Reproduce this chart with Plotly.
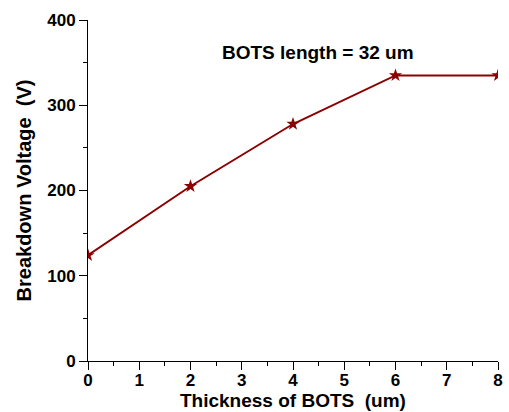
import plotly.graph_objects as go

# BOTS thickness (um) vs. breakdown voltage (V)
thickness = [0, 2, 4, 6, 8]
breakdown_v = [124, 205, 278, 335, 335]

x_ticks = [0, 1, 2, 3, 4, 5, 6, 7, 8]
y_ticks = [0, 100, 200, 300, 400]

color = "#8B0000"
family = "Liberation Sans, Arial, sans-serif"
title_font = dict(family=family, size=19, color="black")

fig = go.Figure(
    go.Scatter(
        x=thickness,
        y=breakdown_v,
        mode="lines+markers",
        line=dict(color=color, width=2),
        marker=dict(symbol="star", size=10, color=color),
        cliponaxis=True,
    )
)

axis_common = dict(
    showgrid=False,
    zeroline=False,
    showline=True,
    linecolor="black",
    linewidth=1,
    ticks="outside",
    ticklen=8,
    tickwidth=1,
    tickcolor="black",
    tickfont=dict(family=family, size=17, color="black"),
    minor=dict(ticks="outside", ticklen=4, tickwidth=1, tickcolor="black"),
    automargin=False,
)

fig.update_xaxes(
    range=[0, 8],
    tickvals=x_ticks,
    ticktext=[f"<b>{v}</b>" for v in x_ticks],
    minor_dtick=0.5,
    ticklabelstandoff=-4,
    **axis_common,
)
fig.update_yaxes(
    range=[0, 400],
    tickvals=y_ticks,
    ticktext=[f"<b>{v}</b>" for v in y_ticks],
    minor_dtick=50,
    title=dict(text="<b>Breakdown Voltage  (V)</b>",
               font=dict(family=family, size=20, color="black"), standoff=10),
    **axis_common,
)

# x-axis title placed just under the tick labels
fig.add_annotation(
    x=0.5, y=-0.082, xref="paper", yref="paper",
    yanchor="top",
    borderpad=0,
    text="<b>Thickness of BOTS  (um)</b>",
    showarrow=False,
    font=title_font,
)

fig.add_annotation(
    x=0.56, y=0.94, xref="paper", yref="paper",
    text="<b>BOTS length = 32 um</b>",
    showarrow=False,
    font=title_font,
)

fig.update_layout(
    width=509,
    height=412,
    margin=dict(l=88, r=11, t=20, b=51),
    plot_bgcolor="white",
    paper_bgcolor="white",
    showlegend=False,
)

fig.write_html("out.html")
